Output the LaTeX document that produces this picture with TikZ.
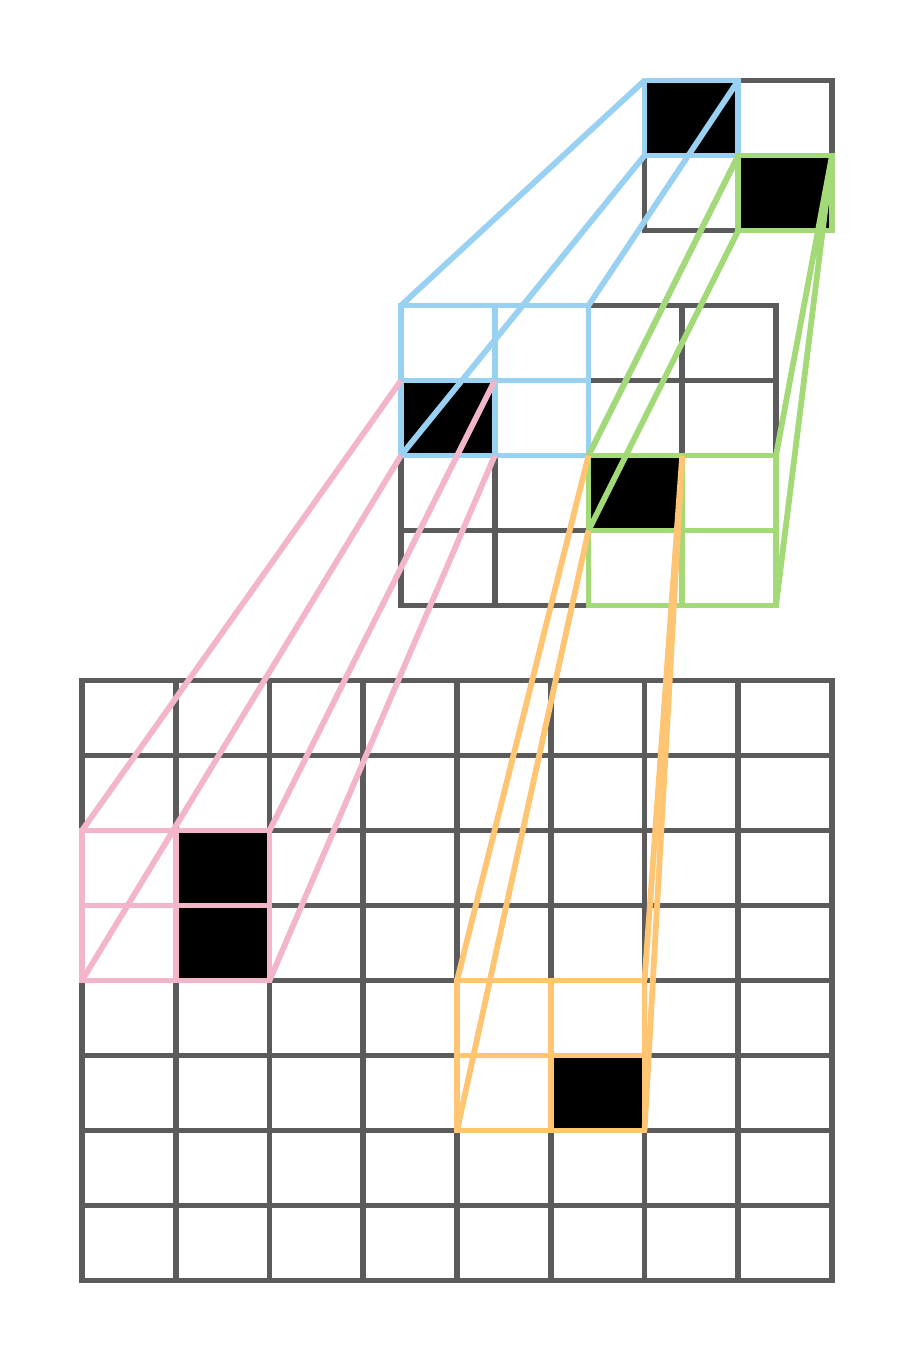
\documentclass[tikz,border=0pt]{standalone}
\usepackage{tikz}
\usetikzlibrary{arrows,shapes,positioning}
\definecolor{gridgray}{HTML}{5B5B5B}
\definecolor{skyblue}{HTML}{99D1F2}
\definecolor{leafgreen}{HTML}{A3D977}
\definecolor{rosepink}{HTML}{F2B5C9}
\definecolor{sandorange}{HTML}{FFC573}
\tikzset{
  gridline/.style={line width=2.9pt,gridgray,line cap=rect},
  hit/.style={fill=black},
  blueline/.style={line width=2.9pt,skyblue},
  greenline/.style={line width=2.9pt,leafgreen},
  pinkline/.style={line width=2.9pt,rosepink},
  orangeline/.style={line width=2.9pt,sandorange}
}
\begin{document}
\begin{tikzpicture}[x=0.5pt,y=-0.5pt]
\useasboundingbox (0,0) rectangle (915,1356);
% corner points of the three grids
\foreach \i in {0,...,2} \foreach \j in {0,...,2}
  \coordinate (t\i\j) at ({644.5+93.75*\i},{80.5+75*\j});
\foreach \i in {0,...,4} \foreach \j in {0,...,4}
  \coordinate (m\i\j) at ({401+93.75*\i},{305.5+75*\j});
\foreach \i in {0,...,8} \foreach \j in {0,...,8}
  \coordinate (b\i\j) at ({82+93.75*\i},{680.5+75*\j});
% filled cells
\fill[hit] (t00) rectangle (t11);
\fill[hit] (t11) rectangle (t22);
\fill[hit] (m01) rectangle (m12);
\fill[hit] (m22) rectangle (m33);
\fill[hit] (b12) rectangle (b24);
\fill[hit] (b55) rectangle (b66);
% grids
\foreach \k in {0,...,2} {
  \draw[gridline] (t\k0)--(t\k2);
  \draw[gridline] (t0\k)--(t2\k);
}
\foreach \k in {0,...,4} {
  \draw[gridline] (m\k0)--(m\k4);
  \draw[gridline] (m0\k)--(m4\k);
}
\foreach \k in {0,...,8} {
  \draw[gridline] (b\k0)--(b\k8);
  \draw[gridline] (b0\k)--(b8\k);
}
% blue
\draw[blueline] (t00) rectangle (t11);
\draw[blueline] (m00) rectangle (m22) (m10)--(m12) (m01)--(m21);
\draw[blueline] (t00)--(m00) (t01)--(m02) (t10)--(m20) (t11)--(m22);
% pink
\draw[pinkline] (b02) rectangle (b24) (b12)--(b14) (b03)--(b23);
\draw[pinkline] (m01)--(b02) (m11)--(b22) (m02)--(b04) (m12)--(b24);
% green
\draw[greenline] (t11) rectangle (t22);
\draw[greenline] (m22) rectangle (m44) (m32)--(m34) (m23)--(m43);
\draw[greenline] (t11)--(m22) (t12)--(m23) (t21)--(m42) (t21)--(m44);
% orange
\draw[orangeline] (b44) rectangle (b66) (b54)--(b56) (b45)--(b65);
\draw[orangeline] (m22)--(b44) (m23)--(b46) (m32)--(b64) (m32)--(b66);
\end{tikzpicture}
\end{document}
